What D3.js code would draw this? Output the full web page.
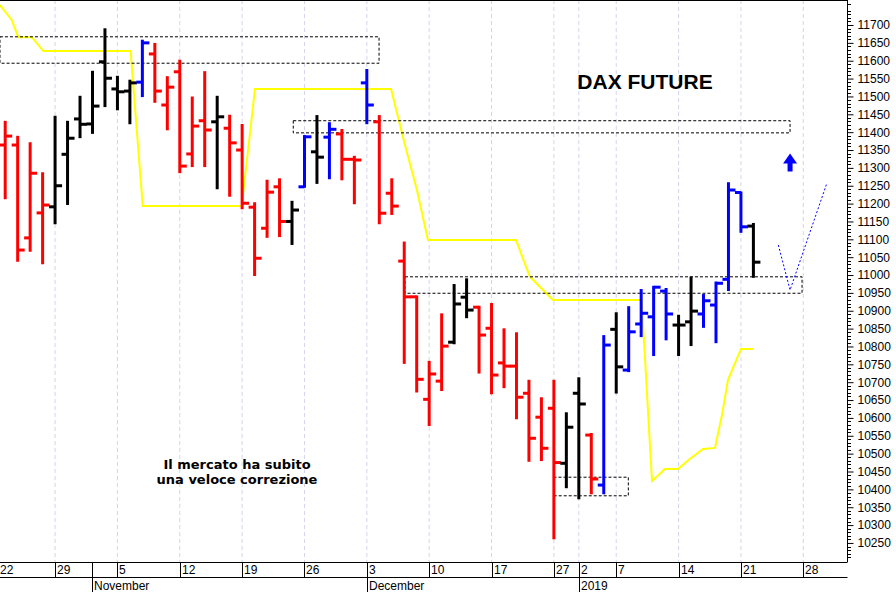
<!DOCTYPE html>
<html><head><meta charset="utf-8">
<script src="https://cdn.jsdelivr.net/npm/d3@7/dist/d3.min.js"></script>
<style>body{margin:0;background:#fff}svg{display:block;font-family:"Liberation Sans",Arial,sans-serif}</style>
</head><body><svg id="c" width="896" height="592"></svg>
<script>
// OHLC bars: index, open, high, low, close, colour code
const barIndex = d3.range(-1, 61);
const opens  = [11450,11364,11364,11104,11174,11191,11338,11437,11423,11597,11521,11515,11540,11619,11476,11569,11339,11432,11429,11411,11350,11190,11131,11247,11150,11247,11345,11386,11395,11324,11538,11429,11229,11039,10939,10652,10703,10812,10938,10910,10851,10754,10745,10669,10602,10627,10473,10669,10552,10412,10848,10734,10863,10883,10955,10860,10869,10891,10916,10988,11231,11137];
const highs  = [11560,11429,11387,11369,11285,11443,11429,11499,11569,11688,11555,11544,11656,11647,11554,11600,11497,11568,11499,11446,11420,11201,11264,11268,11205,11389,11445,11425,11406,11331,11574,11445,11268,11091,10940,10757,10890,10972,10988,10911,10919,10848,10837,10704,10655,10704,10613,10711,10555,10829,10893,10910,10958,10967,10961,10886,10993,10944,10979,11257,11231,11143];
const lows   = [11350,11215,11040,11068,11033,11145,11199,11386,11398,11473,11464,11425,11501,11485,11408,11288,11305,11305,11243,11222,11187,11000,11107,11109,11087,11247,11258,11271,11268,11201,11425,11145,11171,10754,10674,10580,10678,10809,10882,10727,10669,10686,10599,10480,10482,10263,10406,10375,10389,10389,10671,10731,10829,10776,10820,10776,10804,10855,10812,10958,11121,10995];
const closes = [11524,11389,11070,11285,11196,11250,11383,11422,11473,11551,11513,11538,11650,11515,11526,11305,11417,11406,11443,11370,11201,11047,11232,11150,11182,11387,11330,11408,11324,11322,11476,11173,11193,10939,10708,10723,10801,10919,10902,10832,10720,10745,10658,10543,10515,10475,10574,10639,10429,10804,10743,10841,10893,10966,10891,10860,10899,10928,10977,11238,11135,11036];
const colours = "rrrrrkkkkkkkbrrrrrkrrrrrkbkbrrbrrrrrrkkrrrrrrrkkrbkbbbbkkbbbbk".split("");
// yellow line (index, value)
const yellowIdx = [-0.42,0.52,1.05,2.13,3.06,10.06,11.03,18.97,20.03,30.94,32.06,33.02,33.9,40.96,42.08,43.93,51.04,51.87,52.9,53.95,54.9,55.96,56.92,57.48,57.96,59.0,59.96];
const yellowVal = [11756,11714,11666,11666,11627,11627,11193,11193,11521,11521,11364,11238,11098,11098,10995,10930,10930,10423,10457,10457,10485,10513,10516,10608,10706,10793,10793];
// dashed boxes [i0,i1,v0,v1]
const boxes = [[-0.42,29.98,11593,11667],[23.1,62.94,11398,11432],[32.06,63.9,10949,10995],[43.97,49.97,10382,10434]];
// projection dotted path
const projIdx = [62.0,62.94,65.9];
const projVal = [11084,10958,11258];
// x axis
const sepIdx = [-1,4,9,14,19,24,29,34,39,44,46,49,54,59,64];
const sepLabels = ["22","29","5","12","19","26","3","10","17","27","2","7","14","21","28"];
const monthIdx = [7,29,46];
const monthLabels = ["November","December","2019"];
const yTicks = d3.range(10250,11701,50);

const W=847,H=562;
const x = d3.scaleLinear().domain([0,64]).range([5.2,5.2+64*12.47]);
const y = d3.scaleLinear().domain([11700,10250]).range([25,25+1450*0.3572]);
const svg = d3.select("#c");
svg.append("clipPath").attr("id","cp").append("rect").attr("x",0).attr("y",0).attr("width",W).attr("height",H);
const g = svg.append("g").attr("clip-path","url(#cp)");
const colMap={r:"#ff0000",b:"#0000ff",k:"#000000"};
// grid
g.selectAll(".grid").data(sepIdx).join("line").attr("x1",d=>x(d)).attr("x2",d=>x(d)).attr("y1",0).attr("y2",H)
 .attr("stroke","#d4d4ec").attr("stroke-dasharray","4,3");
// yellow
g.append("path").datum(yellowIdx.map((d,i)=>[d,yellowVal[i]])).attr("fill","none").attr("stroke","#ffff00").attr("stroke-width",2)
 .attr("d",d3.line().x(d=>x(d[0])).y(d=>y(d[1])));
// boxes
g.selectAll(".box").data(boxes).join("rect").attr("x",d=>x(d[0])).attr("width",d=>x(d[1])-x(d[0]))
 .attr("y",d=>y(d[3])).attr("height",d=>y(d[2])-y(d[3])).attr("fill","none").attr("stroke","#000").attr("stroke-dasharray","3,2").attr("stroke-width",1);
// bars
const bars = barIndex.map((d,i)=>({i:d,o:opens[i],h:highs[i],l:lows[i],c:closes[i],col:colMap[colours[i]]}));
const bg = g.selectAll(".bar").data(bars).join("g");
bg.append("line").attr("x1",d=>x(d.i)).attr("x2",d=>x(d.i)).attr("y1",d=>y(d.h)-1).attr("y2",d=>y(d.l)+1).attr("stroke",d=>d.col).attr("stroke-width",3);
bg.append("line").attr("x1",d=>x(d.i)-6).attr("x2",d=>x(d.i)).attr("y1",d=>y(d.o)).attr("y2",d=>y(d.o)).attr("stroke",d=>d.col).attr("stroke-width",3);
bg.append("line").attr("x1",d=>x(d.i)).attr("x2",d=>x(d.i)+7).attr("y1",d=>y(d.c)).attr("y2",d=>y(d.c)).attr("stroke",d=>d.col).attr("stroke-width",3);
// projection
g.append("path").datum(projIdx.map((d,i)=>[d,projVal[i]])).attr("fill","none").attr("stroke","#0000ff").attr("stroke-dasharray","2,2").attr("stroke-width",1)
 .attr("d",d3.line().x(d=>x(d[0])).y(d=>y(d[1])));
// arrow
const ax=x(62.94);
g.append("path").attr("fill","#0000ff")
 .attr("d",`M${ax},${y(11340)} L${ax+7},${y(11312)} L${ax+2.5},${y(11312)} L${ax+2.5},${y(11290)} L${ax-2.5},${y(11290)} L${ax-2.5},${y(11312)} L${ax-7},${y(11312)} Z`);
// texts
svg.append("text").attr("x",645).attr("y",89).attr("text-anchor","middle").attr("font-weight","bold").attr("font-size",21).text("DAX FUTURE");
svg.append("text").attr("x",237).attr("y",469).attr("text-anchor","middle").attr("font-weight","bold").attr("font-size",13).attr("font-family","'DejaVu Sans',Verdana,sans-serif").text("Il mercato ha subito");
svg.append("text").attr("x",237).attr("y",484).attr("text-anchor","middle").attr("font-weight","bold").attr("font-size",13).attr("font-family","'DejaVu Sans',Verdana,sans-serif").text("una veloce correzione");
// frame
svg.append("line").attr("x1",0).attr("x2",W).attr("y1",0.5).attr("y2",0.5).attr("stroke","#000");
svg.append("line").attr("x1",W+0.5).attr("x2",W+0.5).attr("y1",0).attr("y2",H).attr("stroke","#000");
// y axis
const yax = svg.append("g").attr("transform",`translate(${W+0.5},0)`).call(d3.axisRight(y).tickValues(yTicks).tickFormat(d3.format("d")).tickSize(6).tickSizeOuter(0));
yax.select(".domain").remove();
yax.selectAll("text").attr("font-size",12).attr("font-family","'Liberation Sans',Arial").attr("fill","#000").attr("x",10);
const minor = d3.range(10200,11771,10).filter(v=>v%50!==0);
svg.selectAll(".mt").data(minor).join("line").attr("x1",W).attr("x2",W+4).attr("y1",d=>Math.round(y(d))+0.5).attr("y2",d=>Math.round(y(d))+0.5).attr("stroke","#000").attr("opacity",d=>y(d)>=0&&y(d)<=H?1:0);
// x axis
svg.append("line").attr("x1",0).attr("x2",W+0.5).attr("y1",H+0.5).attr("y2",H+0.5).attr("stroke","#000");
svg.append("line").attr("x1",0).attr("x2",W+0.5).attr("y1",577.5).attr("y2",577.5).attr("stroke","#000");
svg.selectAll(".sep").data(sepIdx).join("line").attr("x1",d=>Math.round(x(d))+0.5).attr("x2",d=>Math.round(x(d))+0.5).attr("y1",H).attr("y2",577).attr("stroke","#000");
svg.selectAll(".sl").data(sepIdx).join("text").attr("x",d=>Math.max(0,Math.round(x(d))+2)).attr("y",574).attr("font-size",12).text((d,i)=>sepLabels[i]);
svg.selectAll(".msep").data(monthIdx).join("line").attr("x1",d=>Math.round(x(d))+0.5).attr("x2",d=>Math.round(x(d))+0.5).attr("y1",H).attr("y2",592).attr("stroke","#000");
svg.selectAll(".ml").data(monthIdx).join("text").attr("x",d=>Math.round(x(d))+2).attr("y",590).attr("font-size",12).text((d,i)=>monthLabels[i]);
</script></body></html>
